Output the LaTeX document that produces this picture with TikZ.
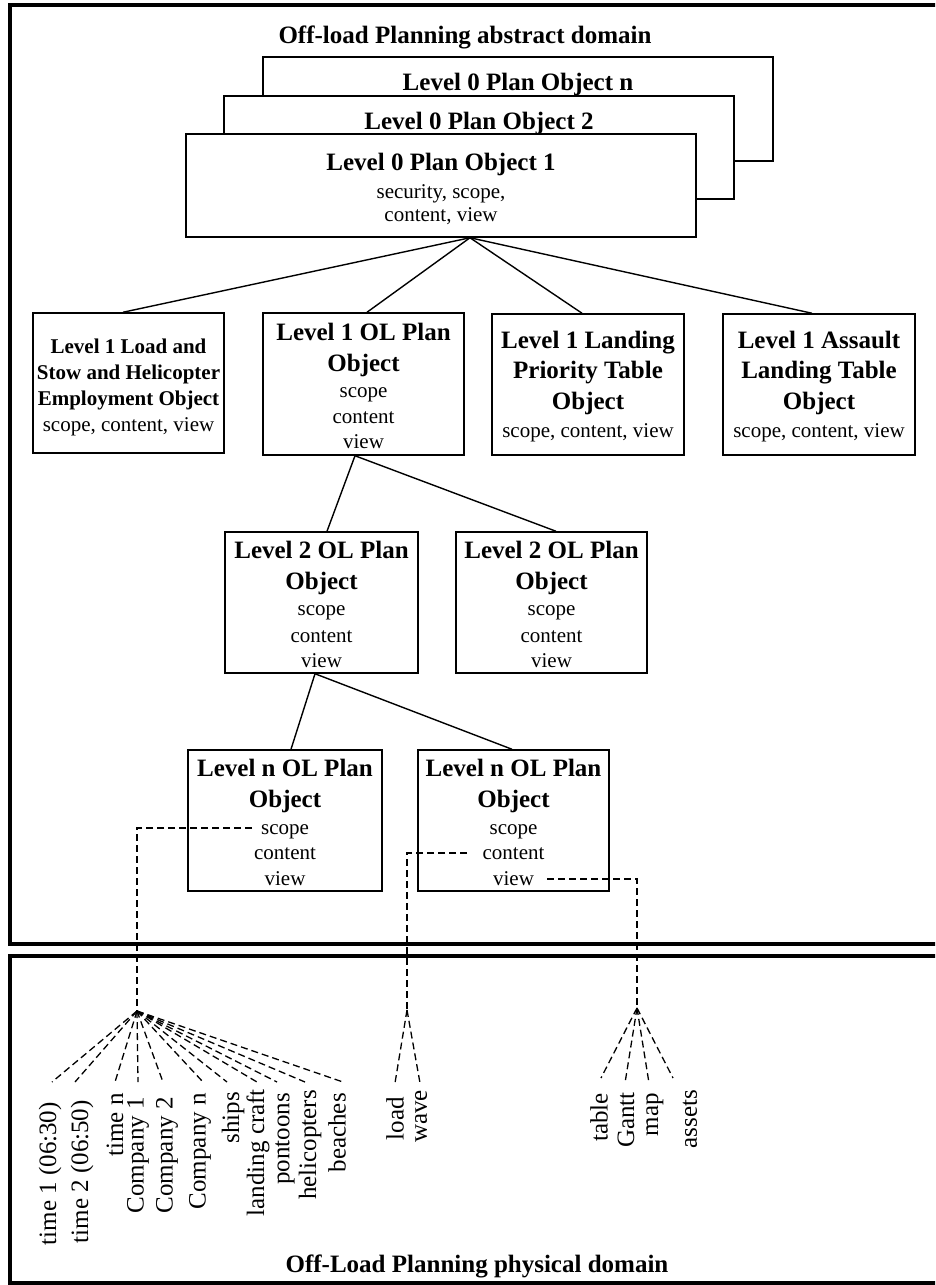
\documentclass[tikz,border=0pt]{standalone}
\usepackage{fontspec}
\setmainfont{Liberation Serif}
\begin{document}
\begin{tikzpicture}[x=1pt,y=-1pt,
  domainframe/.style={line width=4.5pt},
  obj/.style={draw, line width=1.5pt, fill=white, inner sep=0pt},
  head/.style={font=\fontsize{25}{30}\selectfont\bfseries, anchor=base, inner sep=0pt},
  heads/.style={font=\fontsize{21}{25}\selectfont\bfseries, anchor=base, inner sep=0pt},
  field/.style={font=\fontsize{21}{25}\selectfont, anchor=base, inner sep=0pt},
  leaf/.style={font=\fontsize{25}{30}\selectfont, rotate=90, anchor=east, inner sep=0pt},
  link/.style={line width=1.4pt},
  dsh/.style={line width=1.3pt, dash pattern=on 7pt off 4pt}
]
\useasboundingbox (0,0) rectangle (935,1285);
\clip (0,0) rectangle (935,1285);

% the two domain frames (open to the right)
\draw[domainframe] (10,5) rectangle (960,944);
\draw[domainframe] (10,956) rectangle (960,1283);

\node[head] (absttl) at (465,43) {Off-load Planning abstract domain};
\node[head] (phyttl) at (477,1272) {Off-Load Planning physical domain};

% level 0 stack
\node[obj, minimum width=510, minimum height=104] (L0n) at (518,109) {};
\node[head] (L0n-t) at (518,90) {Level 0 Plan Object n};
\node[obj, minimum width=510, minimum height=103] (L0b) at (479,147.5) {};
\node[head] (L0b-t) at (479,129) {Level 0 Plan Object 2};
\node[obj, minimum width=510, minimum height=103] (L0a) at (441,185.5) {};
\node[head] (L0a-t) at (441,170) {Level 0 Plan Object 1};
\node[field] (L0a-f1) at (441,198) {security, scope,};
\node[field] (L0a-f2) at (441,221) {content, view};

% level 1
\node[obj, minimum width=191, minimum height=140] (L1a) at (128.5,383) {};
\node[heads] (L1a-t1) at (128.5,353) {Level 1 Load and};
\node[heads] (L1a-t2) at (128.5,379) {Stow and Helicopter};
\node[heads] (L1a-t3) at (128.5,405) {Employment Object};
\node[field] (L1a-f) at (128.5,431) {scope, content, view};

\node[obj, minimum width=201, minimum height=142] (L1b) at (363.5,384) {};
\node[head] (L1b-t1) at (363.5,340) {Level 1 OL Plan};
\node[head] (L1b-t2) at (363.5,371) {Object};
\node[field] (L1b-f1) at (363.5,397) {scope};
\node[field] (L1b-f2) at (363.5,423) {content};
\node[field] (L1b-f3) at (363.5,448) {view};

\node[obj, minimum width=192, minimum height=141] (L1c) at (588,384.5) {};
\node[head] (L1c-t1) at (588,348) {Level 1 Landing};
\node[head] (L1c-t2) at (588,378) {Priority Table};
\node[head] (L1c-t3) at (588,409) {Object};
\node[field] (L1c-f) at (588,437) {scope, content, view};

\node[obj, minimum width=192, minimum height=141] (L1d) at (819,384.5) {};
\node[head] (L1d-t1) at (819,348) {Level 1 Assault};
\node[head] (L1d-t2) at (819,378) {Landing Table};
\node[head] (L1d-t3) at (819,409) {Object};
\node[field] (L1d-f) at (819,437) {scope, content, view};

% level 2
\node[obj, minimum width=193, minimum height=141] (L2a) at (321.5,602.5) {};
\node[head] (L2a-t1) at (321.5,558) {Level 2 OL Plan};
\node[head] (L2a-t2) at (321.5,589) {Object};
\node[field] (L2a-f1) at (321.5,615) {scope};
\node[field] (L2a-f2) at (321.5,642) {content};
\node[field] (L2a-f3) at (321.5,667) {view};

\node[obj, minimum width=191, minimum height=141] (L2b) at (551.5,602.5) {};
\node[head] (L2b-t1) at (551.5,558) {Level 2 OL Plan};
\node[head] (L2b-t2) at (551.5,589) {Object};
\node[field] (L2b-f1) at (551.5,615) {scope};
\node[field] (L2b-f2) at (551.5,642) {content};
\node[field] (L2b-f3) at (551.5,667) {view};

% level n
\node[obj, minimum width=194, minimum height=141] (Lna) at (285,820.5) {};
\node[head] (Lna-t1) at (285,776) {Level n OL Plan};
\node[head] (Lna-t2) at (285,807) {Object};
\node[field] (Lna-f1) at (285,834) {scope};
\node[field] (Lna-f2) at (285,859) {content};
\node[field] (Lna-f3) at (285,885) {view};

\node[obj, minimum width=191, minimum height=141] (Lnb) at (513.5,820.5) {};
\node[head] (Lnb-t1) at (513.5,776) {Level n OL Plan};
\node[head] (Lnb-t2) at (513.5,807) {Object};
\node[field] (Lnb-f1) at (513.5,834) {scope};
\node[field] (Lnb-f2) at (513.5,859) {content};
\node[field] (Lnb-f3) at (513.5,885) {view};

% hierarchy links
\coordinate (apex) at ([xshift=29pt]L0a.south);
\draw[link] (apex) -- ([xshift=-5.5pt]L1a.north);
\draw[link] (apex) -- ([xshift=3.5pt]L1b.north);
\draw[link] (apex) -- ([xshift=-6pt]L1c.north);
\draw[link] (apex) -- ([xshift=-7pt]L1d.north);
\draw[link] ([xshift=-8.5pt]L1b.south) -- ([xshift=5.5pt]L2a.north);
\draw[link] ([xshift=-8.5pt]L1b.south) -- ([xshift=4.5pt]L2b.north);
\draw[link] ([xshift=-6.5pt]L2a.south) -- ([xshift=6pt]Lna.north);
\draw[link] ([xshift=-6.5pt]L2a.south) -- ([xshift=-1.5pt]Lnb.north);

% taps from the object fields down into the physical domain
\coordinate (scopeTap) at (252,828);
\coordinate (contentTap) at (467,853);
\coordinate (viewTap) at (547,879);
\coordinate (hubS) at (137,1011);
\coordinate (hubC) at (407,1010);
\coordinate (hubV) at (637,1008);
\draw[dsh] (scopeTap) -| (hubS);
\draw[dsh] (contentTap) -| (hubC);
\draw[dsh] (viewTap) -| (hubV);

% physical items
\foreach \id/\txt/\lx/\ly/\ex/\ey/\hub in {
  t1/{time 1 (06:30)}/50/1102/52/1082/hubS,
  t2/{time 2 (06:50)}/82/1100/75/1082/hubS,
  tn/{time n}/115/1093/115/1082/hubS,
  c1/{Company 1}/138/1097/138/1082/hubS,
  c2/{Company 2}/167/1097/163/1082/hubS,
  cn/{Company n}/200/1093/203/1082/hubS,
  sh/{ships}/233/1092/227/1082/hubS,
  lc/{landing craft}/258/1089/257/1082/hubS,
  pt/{pontoons}/285/1093/277/1082/hubS,
  hc/{helicopters}/310/1090/305/1082/hubS,
  bc/{beaches}/337/1093/343/1082/hubS,
  ld/{load}/395/1097/395/1083/hubC,
  wv/{wave}/421/1090/420/1083/hubC,
  tb/{table}/599/1093/601/1078/hubV,
  gt/{Gantt}/626/1092/625/1083/hubV,
  mp/{map}/655/1093/649/1083/hubV,
  as/{assets}/690/1090/673/1078/hubV}
{
  \node[leaf] (\id) at (\lx,\ly) {\txt};
  \coordinate (\id-tip) at (\ex,\ey);
  \draw[dsh] (\hub) -- (\id-tip);
}
\end{tikzpicture}
\end{document}
